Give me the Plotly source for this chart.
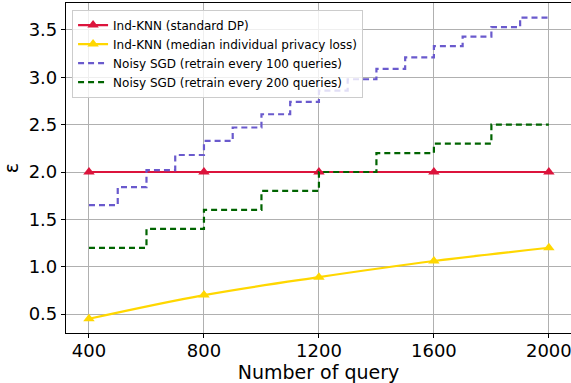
import plotly.graph_objects as go

knn_x = [400, 800, 1200, 1600, 2000]
knn_std = [2.0, 2.0, 2.0, 2.0, 2.0]
knn_median = [0.45, 0.70, 0.89, 1.06, 1.20]

sgd100_x = [400, 500, 600, 700, 800, 900, 1000, 1100, 1200, 1300, 1400, 1500, 1600, 1700, 1800, 1900, 2000]
sgd100_y = [1.65, 1.84, 2.02, 2.18, 2.33, 2.47, 2.61, 2.74, 2.86, 2.98, 3.09, 3.21, 3.33, 3.43, 3.53, 3.63, 3.63]

sgd200_x = [400, 600, 800, 1000, 1200, 1400, 1600, 1800, 2000]
sgd200_y = [1.2, 1.4, 1.6, 1.8, 2.0, 2.2, 2.3, 2.5, 2.5]

x_ticks = [400, 800, 1200, 1600, 2000]
y_ticks = [0.5, 1.0, 1.5, 2.0, 2.5, 3.0, 3.5]

font = "DejaVu Sans"
fig = go.Figure()
fig.add_trace(go.Scatter(x=knn_x, y=knn_std, mode="lines+markers", name="Ind-KNN (standard DP)",
                         line=dict(color="#DC143C", width=2.2),
                         marker=dict(symbol="triangle-up", size=10, color="#DC143C")))
fig.add_trace(go.Scatter(x=knn_x, y=knn_median, mode="lines+markers", name="Ind-KNN (median individual privacy loss)",
                         line=dict(color="#FFD700", width=2.2, shape="spline"),
                         marker=dict(symbol="triangle-up", size=10, color="#FFD700")))
fig.add_trace(go.Scatter(x=sgd100_x, y=sgd100_y, mode="lines", name="Noisy SGD (retrain every 100 queries)",
                         line=dict(color="#6A5ACD", width=2.2, dash="6px,4px", shape="hv")))
fig.add_trace(go.Scatter(x=sgd200_x, y=sgd200_y, mode="lines", name="Noisy SGD (retrain every 200 queries)",
                         line=dict(color="#006400", width=2.2, dash="6px,4px", shape="hv")))

fig.update_layout(
    width=571, height=383,
    margin=dict(l=66, r=0, t=3, b=50),
    paper_bgcolor="white", plot_bgcolor="white",
    font=dict(family=font, color="black"),
    showlegend=True,
    legend=dict(x=0.012, y=0.98, xanchor="left", yanchor="top",
                bgcolor="rgba(255,255,255,0.8)", bordercolor="#cccccc", borderwidth=1,
                font=dict(size=12, family=font), tracegroupgap=0, itemwidth=30),
)
fig.update_xaxes(range=[320, 2077], tickvals=x_ticks, ticktext=[str(v) for v in x_ticks],
                 showgrid=True, gridcolor="#b0b0b0", gridwidth=1,
                 showline=True, linecolor="black", linewidth=1.2, mirror=True,
                 ticks="outside", ticklen=4, tickcolor="black",
                 ticklabeloverflow="allow", ticklabelstandoff=-3,
                 tickfont=dict(size=18, family=font),
                 title=dict(text="Number of query", font=dict(size=19, family=font), standoff=4),
                 zeroline=False)
fig.update_yaxes(range=[0.30, 3.785], tickvals=y_ticks, ticktext=[f"{v:.1f}" for v in y_ticks],
                 showgrid=True, gridcolor="#b0b0b0", gridwidth=1,
                 showline=True, linecolor="black", linewidth=1.2, mirror=True,
                 ticks="outside", ticklen=4, tickcolor="black",
                 ticklabeloverflow="allow",
                 tickfont=dict(size=18, family=font),
                 title=dict(text="ε", font=dict(size=19, family=font), standoff=6),
                 zeroline=False)

fig.write_html("out.html")
